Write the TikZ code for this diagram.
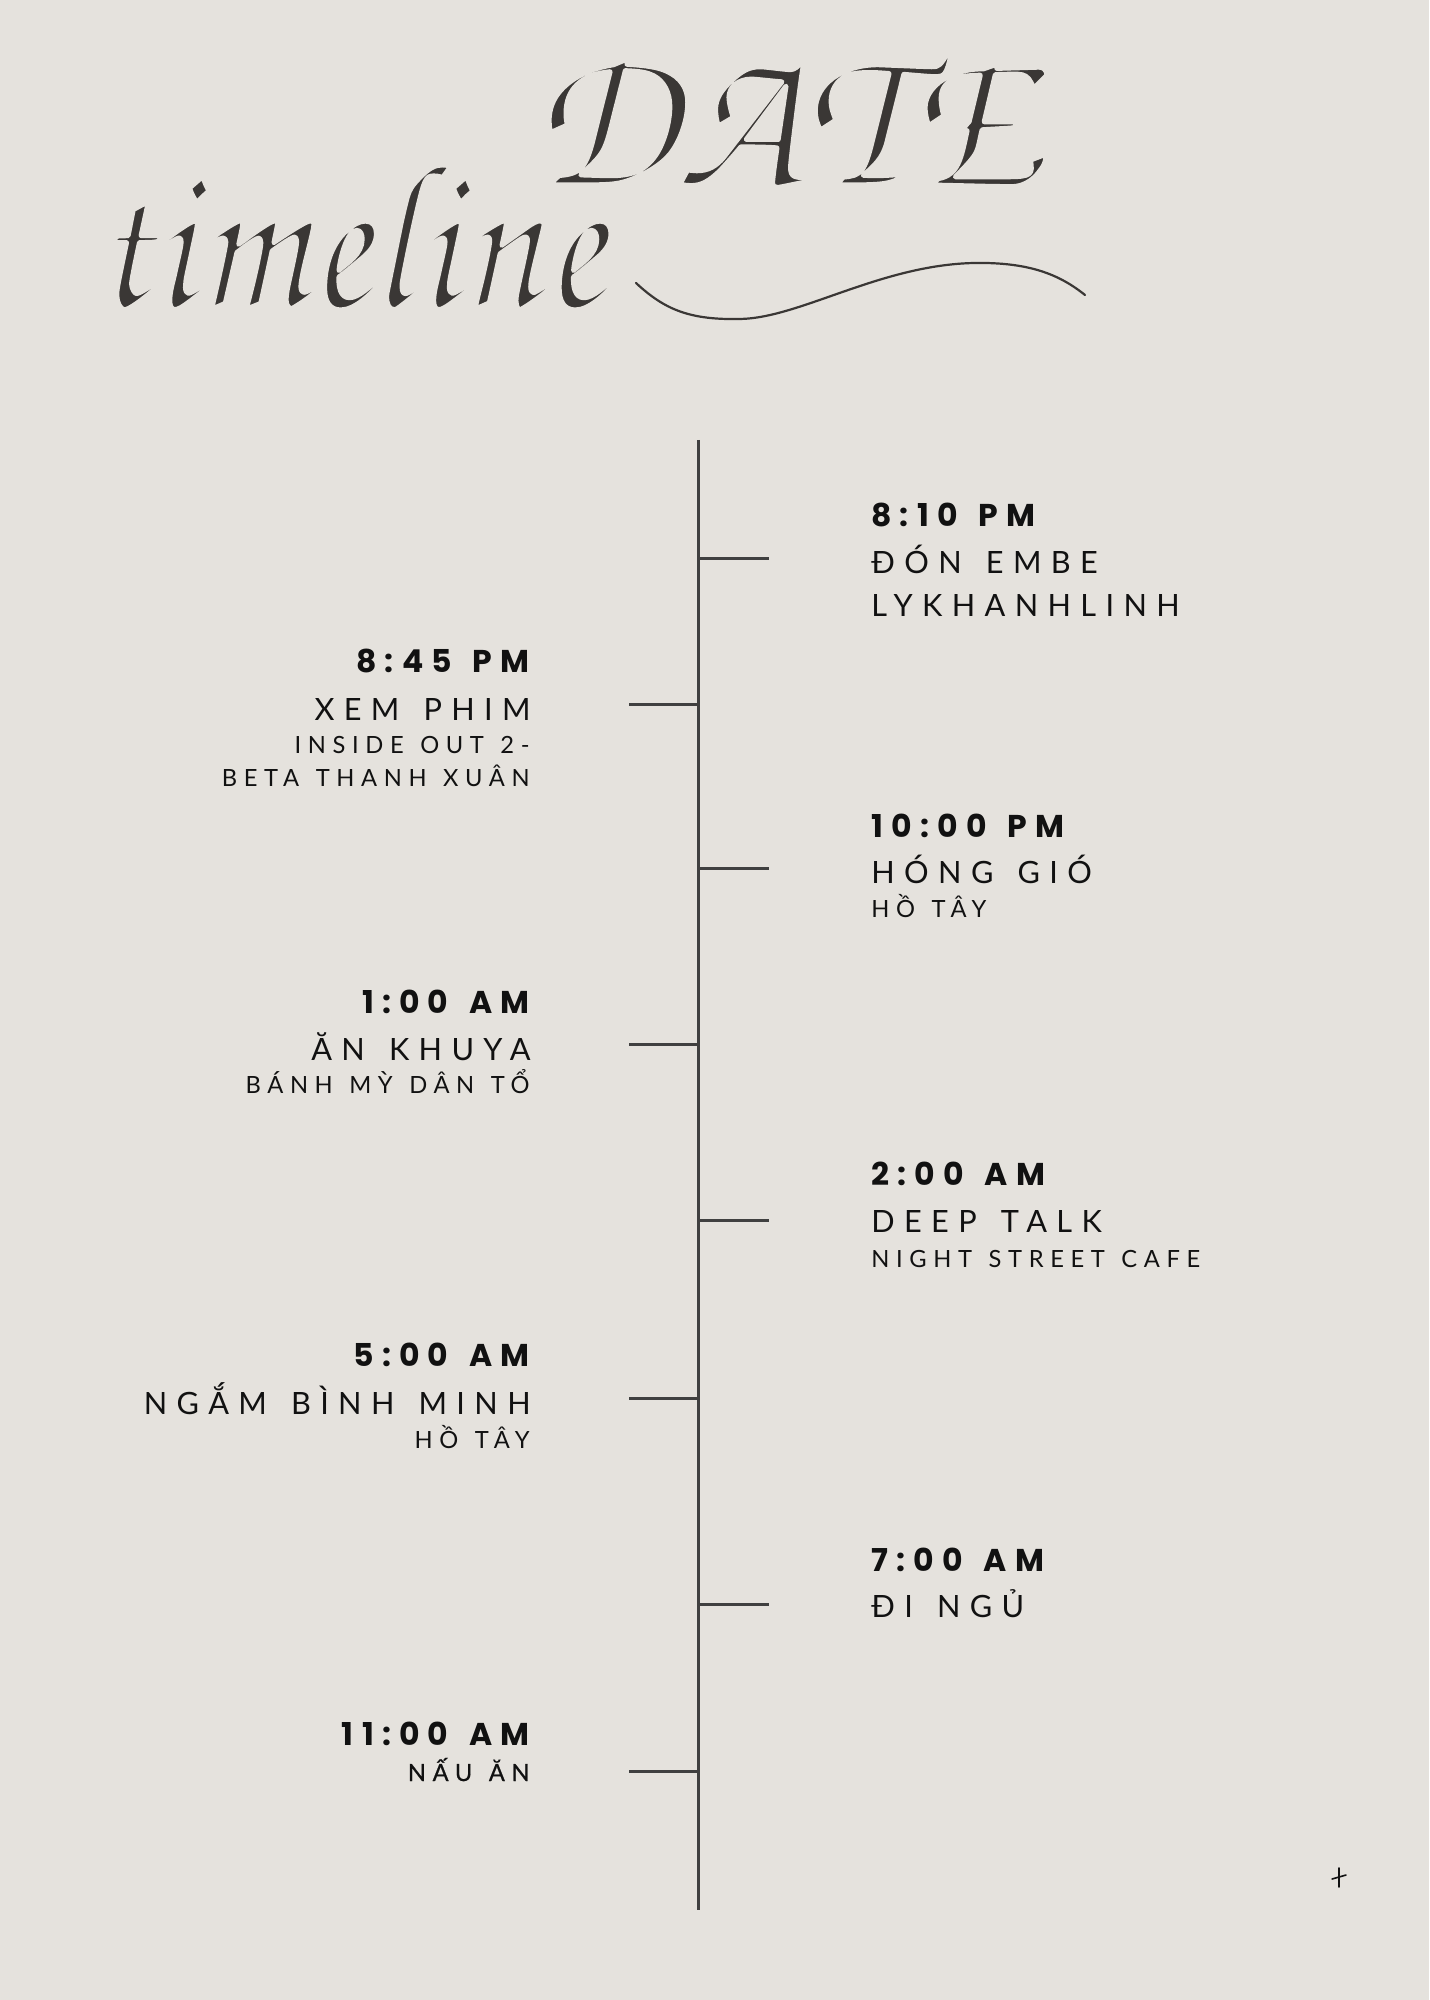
\documentclass[tikz,border=0pt]{standalone}
\usepackage{fontspec}
\setmainfont{Lato}
\newfontfamily\timefont{Poppins}[LetterSpace=26, WordSpace=1.4]
\newfontfamily\actfont{Lato}[LetterSpace=30.5, WordSpace=1.4]
\newfontfamily\smallfont{Lato}[LetterSpace=28, WordSpace=1.3]
\newfontfamily\scriptfnt{texgyrechorus-mediumitalic.otf}
\definecolor{bg}{HTML}{E5E2DD}
\definecolor{ink}{HTML}{111111}
\definecolor{axisc}{HTML}{404040}
\definecolor{titlec}{HTML}{3A3735}
% thin the script glyphs: stroke their outlines in the background colour
\newcommand\thinglyphs[2]{\special{pdf:literal direct 2 Tr #1 w 1 j 0.898 0.886 0.867 RG}#2\special{pdf:literal direct 0 Tr}}
\tikzset{
  axisline/.style={draw=axisc, line width=1.5pt},
  tickline/.style={draw=axisc, line width=1.5pt},
  timelbl/.style={inner sep=0pt, text=ink, font=\timefont\bfseries\fontsize{15.75}{18}\selectfont},
  biglbl/.style={inner sep=0pt, text=ink, font=\actfont\fontsize{15.35}{18}\selectfont},
  smalllbl/.style={inner sep=0pt, text=ink, font=\smallfont\fontsize{11.85}{14}\selectfont},
  titlelbl/.style={inner sep=0pt, text=titlec},
  swash/.style={draw=titlec, line width=1.1pt, line cap=round},
  markline/.style={draw=ink, line width=0.8pt, line cap=round},
}
\begin{document}
\begin{tikzpicture}[x=0.5pt,y=-0.5pt]
\useasboundingbox (0,0) rectangle (1429,2000);
\fill[bg] (0,0) rectangle (1429,2000);

% title
\node[titlelbl, anchor=base west, font=\scriptfnt\fontsize{93.5}{100}\selectfont] (tl) at (92,307) {\scalebox{0.98}[1.12]{\thinglyphs{2.2}{timeline}}};
\node[titlelbl, anchor=base west, font=\scriptfnt\fontsize{103}{110}\selectfont] (dt) at (531,185) {\thinglyphs{2.5}{DATE}};
\coordinate (sw0) at (636,283);
\coordinate (sw1) at (740,319);
\coordinate (sw2) at (974,263);
\coordinate (sw3) at (1085,295);
\draw[swash] (sw0) .. controls (665,310) and (690,320) .. (sw1)
  .. controls (800,318) and (880,265) .. (sw2)
  .. controls (1030,262) and (1060,275) .. (sw3);

% axis
\coordinate (axtop) at (698,440);
\coordinate (axbot) at (698,1910);
\draw[axisline] (axtop) -- (axbot);

% ticks right
\foreach \n/\y in {r1/558, r3/868, r5/1220, r7/1604} {
  \coordinate (\n a) at (698,\y);
  \coordinate (\n b) at (769,\y);
  \draw[tickline] (\n a) -- (\n b);
}
% ticks left
\foreach \n/\y in {l2/704, l4/1044, l6/1398, l8/1771} {
  \coordinate (\n a) at (629,\y);
  \coordinate (\n b) at (698,\y);
  \draw[tickline] (\n a) -- (\n b);
}

% right blocks
\node[timelbl, anchor=base west] (t1) at (871,526) {8:10 PM};
\node[biglbl, anchor=base west] (a1) at (871,573) {ĐÓN EMBE};
\node[biglbl, anchor=base west] (b1) at (871,616) {LYKHANHLINH};

\node[timelbl, anchor=base west] (t3) at (871,837) {10:00 PM};
\node[biglbl, anchor=base west] (a3) at (871,883) {HÓNG GIÓ};
\node[smalllbl, anchor=base west] (b3) at (871,917) {HỒ TÂY};

\node[timelbl, anchor=base west] (t5) at (871,1185) {2:00 AM};
\node[biglbl, anchor=base west] (a5) at (871,1232) {DEEP TALK};
\node[smalllbl, anchor=base west] (b5) at (871,1267) {NIGHT STREET CAFE};

\node[timelbl, anchor=base west] (t7) at (871,1571) {7:00 AM};
\node[biglbl, anchor=base west] (a7) at (871,1617) {ĐI NGỦ};

% left blocks
\node[timelbl, anchor=base east] (t2) at (530,672) {8:45 PM};
\node[biglbl, anchor=base east] (a2) at (531,720) {XEM PHIM};
\node[smalllbl, anchor=base east] (b2) at (530,753) {INSIDE OUT 2-};
\node[smalllbl, anchor=base east] (c2) at (530,786) {BETA THANH XUÂN};

\node[timelbl, anchor=base east] (t4) at (530,1013) {1:00 AM};
\node[biglbl, anchor=base east] (a4) at (531,1060) {ĂN KHUYA};
\node[smalllbl, anchor=base east] (b4) at (530,1093) {BÁNH MỲ DÂN TỔ};

\node[timelbl, anchor=base east] (t6) at (530,1366) {5:00 AM};
\node[biglbl, anchor=base east] (a6) at (531,1414) {NGẮM BÌNH MINH};
\node[smalllbl, anchor=base east] (b6) at (530,1448) {HỒ TÂY};

\node[timelbl, anchor=base east] (t8) at (530,1745) {11:00 AM};
\node[smalllbl, anchor=base east, font=\smallfont\fontsize{11.85}{14}\selectfont\addfontfeature{FakeBold=0.6}] (a8) at (530,1781) {NẤU ĂN};

% small mark
\coordinate (m1) at (1339,1868);
\coordinate (m2) at (1339,1887);
\coordinate (m3) at (1332,1879);
\coordinate (m4) at (1346,1875);
\draw[markline] (m1) -- (m2);
\draw[markline] (m3) -- (m4);
\end{tikzpicture}
\end{document}
